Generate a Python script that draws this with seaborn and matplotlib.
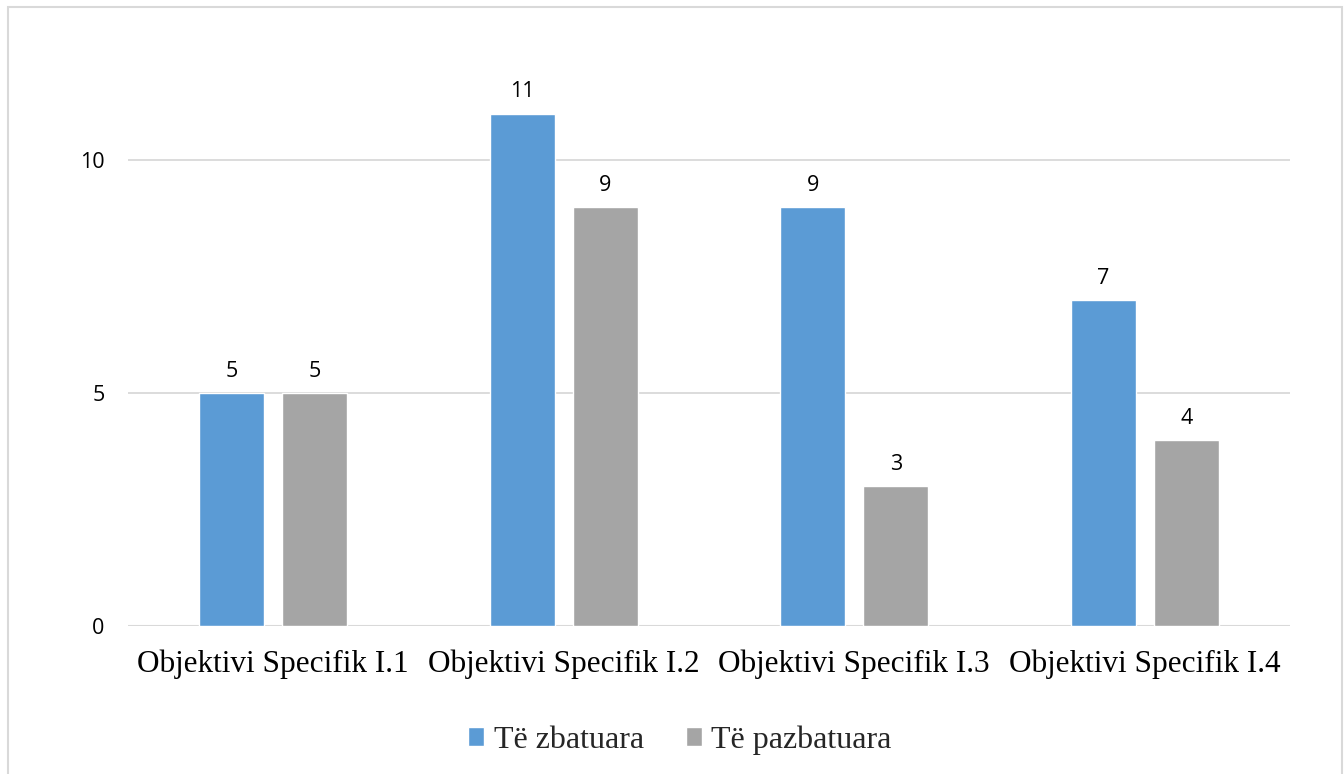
import matplotlib
matplotlib.use("Agg")
import matplotlib.pyplot as plt
import seaborn as sns
import pandas as pd
from matplotlib.patches import Rectangle

categories = ["Objektivi Specifik I.1", "Objektivi Specifik I.2",
              "Objektivi Specifik I.3", "Objektivi Specifik I.4"]
series_names = ["Të zbatuara", "Të pazbatuara"]
zbatuara = [5, 11, 9, 7]
pazbatuara = [5, 9, 3, 4]
y_ticks = [0, 5, 10]
colors = ["#5B9BD5", "#A5A5A5"]

df = pd.DataFrame({
    "cat": categories * 2,
    "val": zbatuara + pazbatuara,
    "series": [series_names[0]] * 4 + [series_names[1]] * 4,
})

sns.set_theme(style="white")
plt.rcParams['font.family'] = ['Open Sans', 'DejaVu Sans']

fig = plt.figure(figsize=(13.44, 7.74), dpi=100)
ax = fig.add_axes([128/1344, 1 - 626/774, (1290-128)/1344, (626-67)/774])

sns.barplot(data=df, x="cat", y="val", hue="series", palette=colors,
            width=0.571, gap=0.217, ax=ax, saturation=1, legend=True, zorder=3)

ax.set_ylim(0, 12)
ax.set_yticks(y_ticks)
ax.set_xlim(-0.5, 3.5)
ax.yaxis.grid(True, color="#D9D9D9", linewidth=1.3, zorder=0)
ax.set_axisbelow(True)
for s in ["top", "right", "left", "bottom"]:
    ax.spines[s].set_visible(False)
ax.axhline(0, color="#D9D9D9", linewidth=1.5, zorder=1)
ax.set_xlabel("")
ax.set_ylabel("")
ax.tick_params(axis="y", labelsize=15.5, colors="#000000", length=0, pad=17)
ax.tick_params(axis="x", length=0, pad=17)
for lab in ax.get_xticklabels():
    lab.set_family("Liberation Serif")
    lab.set_fontsize(22.5)
    lab.set_color("#000000")

for cont in ax.containers:
    ax.bar_label(cont, fmt="%g", padding=8, fontsize=15.5, color="#000000")

handles, labels = ax.get_legend_handles_labels()
ax.legend(handles, labels, loc="center", bbox_to_anchor=(680/1344, 1 - 740/774),
          bbox_transform=fig.transFigure, ncol=2, frameon=False,
          prop={"family": "Liberation Serif", "size": 23},
          handlelength=0.5, handleheight=0.5, handletextpad=0.3, columnspacing=1.3)

fig.patches.append(Rectangle((8/1344, -0.1), (1342-8)/1344, 1.1 - 7/774,
                             transform=fig.transFigure, fill=False,
                             edgecolor="#D9D9D9", linewidth=1.5))

fig.savefig("out.png", dpi=100)
